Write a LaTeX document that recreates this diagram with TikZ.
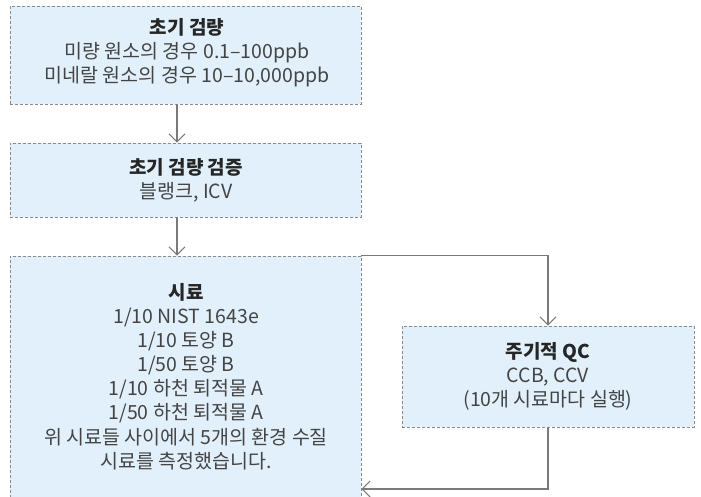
\documentclass[tikz,border=0pt]{standalone}
\usepackage{fontspec}
\setmainfont{Noto Sans CJK KR}
\usetikzlibrary{arrows.meta}
\definecolor{boxfill}{HTML}{E1F0FA}
\definecolor{boxline}{HTML}{8A8A8A}
\definecolor{connc}{HTML}{7A7A7A}
\definecolor{txt}{HTML}{444444}
\definecolor{ttltxt}{HTML}{262626}
\tikzset{
  box/.style={draw=boxline, fill=boxfill, dash pattern=on 3pt off 2pt, line width=0.9pt, inner sep=0pt},
  txtnode/.style={align=center, inner sep=0pt, text=txt, font=\fontsize{19.5}{24.1}\selectfont},
  conn/.style={draw=connc, line width=1.1pt, -{Straight Barb[length=8pt,width=16pt,line width=1pt]}},
}
\newcommand{\ttl}[1]{{\color{ttltxt}\fontsize{19}{24.1}\selectfont\bfseries #1}}
\begin{document}
\begin{tikzpicture}[x=1pt,y=-1pt]
\useasboundingbox (0,0) rectangle (701,497);
\clip (0,0) rectangle (701,497);
% boxes
\node[box, minimum width=351pt, minimum height=98pt] (b1) at (185.5,55) {};
\node[box, minimum width=351pt, minimum height=74pt] (b2) at (185.5,180) {};
\node[box, minimum width=351pt, minimum height=264pt] (b3) at (185.5,388) {};
\node[box, minimum width=292pt, minimum height=101pt] (qc) at (548,376.5) {};
% texts
\node[txtnode] (t1) at (187,52.5) {\ttl{초기 검량}\\미량 원소의 경우 0.1–100ppb\\미네랄 원소의 경우 10–10,000ppb};
\node[txtnode] (t2) at (186,180.5) {\ttl{초기 검량 검증}\\블랭크, ICV};
\node[txtnode] (t3) at (186,376.5) {\ttl{시료}\\1/10 NIST 1643e\\1/10 토양 B\\1/50 토양 B\\1/10 하천 퇴적물 A\\1/50 하천 퇴적물 A\\위 시료들 사이에서 5개의 환경 수질\\시료를 측정했습니다.};
\node[txtnode] (tq) at (548,376) {\ttl{주기적 QC}\\CCB, CCV\\(10개 시료마다 실행)};
% connectors
\coordinate (ax) at (177,0);
\coordinate (ret) at (0,489);
\draw[conn] (b1.south -| ax) -- (b2.north -| ax);
\draw[conn] (b2.south -| ax) -- (b3.north -| ax);
\draw[conn] (b3.north east) -| (qc.north);
\draw[conn] (qc.south) |- (ret -| b3.east);
\end{tikzpicture}
\end{document}
